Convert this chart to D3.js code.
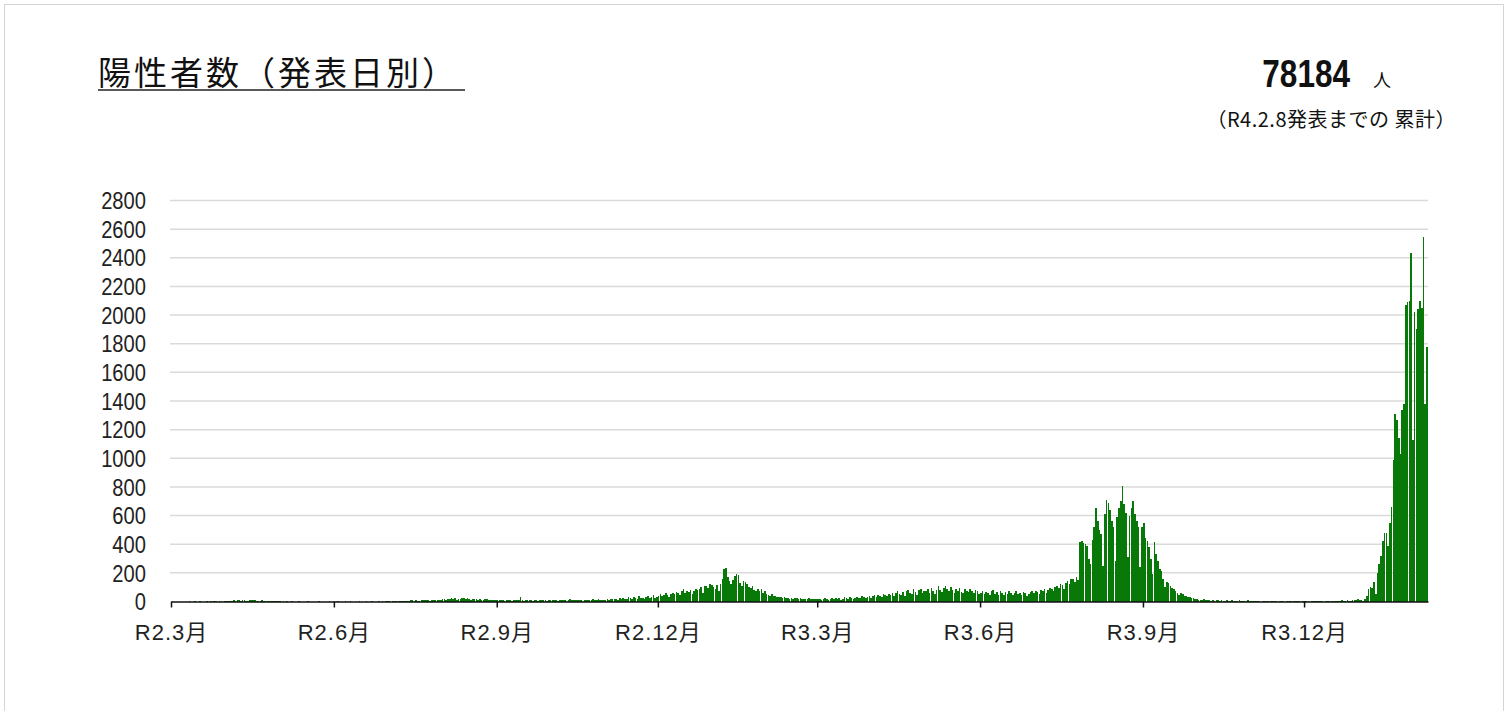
<!doctype html>
<html>

<head>
    <meta charset="UTF-8">
    <title>陽性者数（発表日別）</title>
    <script src="https://d3js.org/d3.v7.min.js"></script>
    <style>
        body {
            margin: 0;
            background: #fff;
        }

        svg {
            display: block;
        }
    </style>
</head>

<body>
    <svg width="1508" height="711"></svg>
    <script>
        // daily counts, first value = R2.3.1 (2020-03-01)
        var cases2020 = [
            0, 0, 0, 0, 0, 0, 0, 0, 0, 0, 1, 0, 0, 2, 0, 0, 1, 0, 0, 0, 1, 0, 2, 0, 1, 3, 0, 2, 1, 0, 2,                  // 3月
            3, 5, 2, 6, 8, 4, 7, 10, 6, 9, 12, 5, 4, 8, 11, 7, 9, 6, 3, 5, 7, 4, 6, 3, 2, 4, 2, 3, 1, 2,                  // 4月
            1, 0, 2, 0, 1, 0, 0, 1, 0, 0, 0, 1, 0, 0, 0, 0, 1, 0, 0, 0, 0, 0, 1, 0, 0, 0, 0, 0, 1, 0, 0,                  // 5月
            0, 0, 1, 0, 0, 0, 2, 0, 0, 1, 0, 0, 0, 0, 1, 0, 0, 0, 2, 0, 0, 1, 0, 0, 0, 3, 0, 1, 0, 2,                     // 6月
            1, 2, 0, 3, 1, 2, 4, 3, 2, 5, 6, 4, 3, 7, 8, 5, 9, 6, 4, 8, 10, 7, 12, 9, 6, 11, 8, 10, 13, 9, 12,            // 7月
            14, 18, 10, 16, 20, 22, 15, 25, 12, 19, 17, 24, 21, 16, 23, 14, 11, 18, 20, 15, 13, 17, 12, 9, 14, 16, 11, 13, 10, 8, 12, // 8月
            9, 11, 7, 10, 6, 8, 12, 9, 5, 10, 8, 13, 7, 30, 9, 6, 11, 8, 12, 7, 5, 9, 10, 6, 8, 11, 7, 9, 5, 8,           // 9月
            10, 7, 12, 8, 5, 9, 11, 13, 8, 6, 10, 14, 9, 7, 12, 10, 8, 11, 6, 9, 13, 10, 7, 12, 15, 8, 11, 14, 9, 12, 10, // 10月
            12, 15, 9, 18, 14, 20, 16, 11, 22, 17, 25, 19, 14, 28, 21, 16, 30, 24, 18, 35, 22, 27, 19, 32, 38, 24, 29, 42, 21, 33, // 11月
            40, 52, 35, 48, 60, 45, 30, 55, 62, 50, 68, 58, 42, 72, 86, 60, 75, 65, 80, 52, 70, 90, 78, 85, 98, 60, 105, 110, 95, 120, 115 // 12月
        ];
        var cases2021 = [
            100, 90, 118, 70, 125, 160, 225, 232, 170, 140, 120, 150, 175, 190, 185, 130, 110, 145, 135, 120, 100, 95, 110, 80, 70, 88, 75, 85, 60, 70, 55, // 1月
            48, 40, 52, 35, 38, 30, 28, 32, 25, 30, 22, 27, 20, 24, 18, 22, 26, 19, 23, 17, 20, 15, 18, 21, 16, 19, 14, 17, // 2月
            15, 20, 12, 18, 22, 16, 10, 19, 24, 14, 21, 18, 25, 13, 20, 28, 22, 17, 30, 24, 19, 27, 33, 21, 26, 35, 29, 23, 31, 38, 27, // 3月
            35, 42, 30, 45, 38, 28, 50, 44, 36, 55, 48, 62, 40, 58, 70, 52, 45, 65, 38, 72, 80, 60, 55, 85, 68, 48, 78, 90, 62, 70, // 4月
            75, 88, 60, 95, 70, 55, 82, 105, 78, 65, 92, 110, 85, 70, 98, 80, 62, 88, 72, 94, 68, 58, 85, 76, 66, 90, 74, 60, 82, 70, 55, // 5月
            62, 75, 50, 68, 58, 45, 72, 80, 55, 64, 48, 70, 60, 42, 66, 52, 74, 58, 46, 62, 70, 50, 56, 44, 68, 60, 40, 54, 65, 72, // 6月
            58, 75, 66, 50, 80, 72, 90, 62, 78, 95, 85, 70, 102, 110, 92, 125, 118, 88, 130, 145, 120, 155, 160, 135, 170, 150, 415, 420, 410, 400, 385, // 7月
            300, 260, 430, 520, 655, 560, 500, 470, 250, 610, 712, 690, 640, 560, 520, 280, 590, 650, 700, 803, 680, 620, 310, 600, 650, 705, 614, 560, 520, 240, 520, // 8月
            550, 440, 420, 380, 300, 195, 414, 330, 280, 230, 210, 160, 100, 135, 130, 110, 95, 90, 75, 60, 45, 62, 50, 40, 35, 30, 28, 22, 25, 18, // 9月
            15, 12, 8, 10, 14, 9, 11, 7, 6, 9, 5, 8, 10, 6, 7, 4, 5, 8, 6, 3, 7, 5, 4, 6, 9, 5, 3, 6, 4, 7, 5,           // 10月
            3, 2, 4, 1, 3, 0, 2, 1, 3, 2, 0, 1, 4, 2, 1, 0, 2, 3, 1, 0, 2, 1, 3, 0, 1, 2, 4, 1, 0, 2,                     // 11月
            1, 3, 2, 0, 1, 4, 2, 3, 1, 5, 2, 0, 3, 1, 2, 4, 6, 3, 2, 5, 4, 7, 3, 6, 8, 5, 4, 9, 12, 10, 14                // 12月
        ];
        var cases2022 = [
            12, 8, 6, 15, 40, 85, 100, 95, 135, 50, 200, 265, 320, 425, 475, 480, 390, 545, 660, 985,
            1310, 1265, 1145, 1030, 1335, 1380, 2070, 2090, 2100, 2430, 1125,                                             // 1月
            2020, 1905, 2040, 2100, 2050, 2545, 1380, 1775                                                                // 2月
        ];

        var yTicks = [0, 200, 400, 600, 800, 1000, 1200, 1400, 1600, 1800, 2000, 2200, 2400, 2600, 2800];
        var xTickDates = ["2020-03-01", "2020-06-01", "2020-09-01", "2020-12-01", "2021-03-01", "2021-06-01", "2021-09-01", "2021-12-01"];
        var xTickLabels = ["R2.3月", "R2.6月", "R2.9月", "R2.12月", "R3.3月", "R3.6月", "R3.9月", "R3.12月"];

        var title = "陽性者数（発表日別）";
        var total = "78184";
        var totalUnit = "人";
        var totalNote = "（R4.2.8発表までの 累計）";

        var parse = d3.timeParse("%Y-%m-%d");
        var start = parse("2020-03-01");
        var allCases = cases2020.concat(cases2021, cases2022);
        var data = allCases.map(function (v, i) {
            return { date: d3.timeDay.offset(start, i), value: v };
        });

        var svg = d3.select("svg");
        var latin = "'Liberation Sans', Arial, sans-serif";
        var jp = "'Noto Sans CJK JP', sans-serif";

        // frame
        svg.append("rect")
            .attr("x", 4.5).attr("y", 4.5)
            .attr("width", 1499).attr("height", 720)
            .attr("fill", "none").attr("stroke", "#d4d4d4");

        // title
        svg.append("text")
            .attr("x", 98).attr("y", 85)
            .attr("font-family", jp).attr("font-size", 33)
            .attr("letter-spacing", 3)
            .attr("fill", "#111")
            .text(title);
        svg.append("line")
            .attr("x1", 98).attr("x2", 465)
            .attr("y1", 90).attr("y2", 90)
            .attr("stroke", "#222").attr("stroke-width", 1.5);

        // total, drawn condensed
        svg.append("text")
            .attr("transform", "translate(1350,87) scale(0.83,1)")
            .attr("text-anchor", "end")
            .attr("font-family", latin).attr("font-size", 38).attr("font-weight", "bold")
            .attr("fill", "#111")
            .text(total);
        svg.append("text")
            .attr("x", 1373).attr("y", 87)
            .attr("font-family", jp).attr("font-size", 18)
            .attr("fill", "#111")
            .text(totalUnit);
        svg.append("text")
            .attr("x", 1456).attr("y", 127)
            .attr("text-anchor", "end")
            .attr("font-family", jp).attr("font-size", 20)
            .attr("letter-spacing", 0.5)
            .attr("fill", "#111")
            .text(totalNote);

        var x = d3.scaleTime()
            .domain([start, parse("2022-02-09")])
            .range([171, 1428]);
        var y = d3.scaleLinear()
            .domain([0, 2800])
            .range([601.5, 200.5]);

        // gridlines
        svg.append("g").selectAll("line")
            .data(yTicks.slice(1))
            .enter().append("line")
            .attr("x1", 170).attr("x2", 1428)
            .attr("y1", function (d) { return y(d); })
            .attr("y2", function (d) { return y(d); })
            .attr("stroke", "#dadada").attr("stroke-width", 1.5);

        // y labels (narrow)
        svg.append("g").selectAll("text")
            .data(yTicks)
            .enter().append("text")
            .attr("transform", function (d) { return "translate(146," + y(d) + ") scale(0.84,1)"; })
            .attr("dy", "0.36em")
            .attr("text-anchor", "end")
            .attr("font-family", latin).attr("font-size", 24)
            .attr("fill", "#222")
            .text(function (d) { return d; });

        // bars
        svg.append("g").selectAll("rect")
            .data(data)
            .enter().append("rect")
            .attr("x", function (d) { return x(d.date); })
            .attr("y", function (d) { return y(d.value); })
            .attr("width", function (d) { return x(d3.timeDay.offset(d.date, 1)) - x(d.date) - 0.15; })
            .attr("height", function (d) { return y(0) - y(d.value); })
            .attr("shape-rendering", "crispEdges")
            .attr("fill", "#087808");

        // x axis
        var xAxis = d3.axisBottom(x)
            .tickValues(xTickDates.map(parse))
            .tickFormat(function (d, i) { return xTickLabels[i]; })
            .tickSizeInner(6)
            .tickSizeOuter(0);
        var gx = svg.append("g")
            .attr("transform", "translate(0," + y(0) + ")")
            .call(xAxis);
        gx.select(".domain").attr("stroke", "#111").attr("stroke-width", 1.5);
        gx.selectAll(".tick line").attr("stroke", "#111").attr("stroke-width", 1.5);
        gx.selectAll(".tick text")
            .attr("y", 23)
            .attr("font-family", latin + ", " + jp).attr("font-size", 22)
            .attr("letter-spacing", 1)
            .attr("fill", "#222");
    </script>
</body>

</html>
